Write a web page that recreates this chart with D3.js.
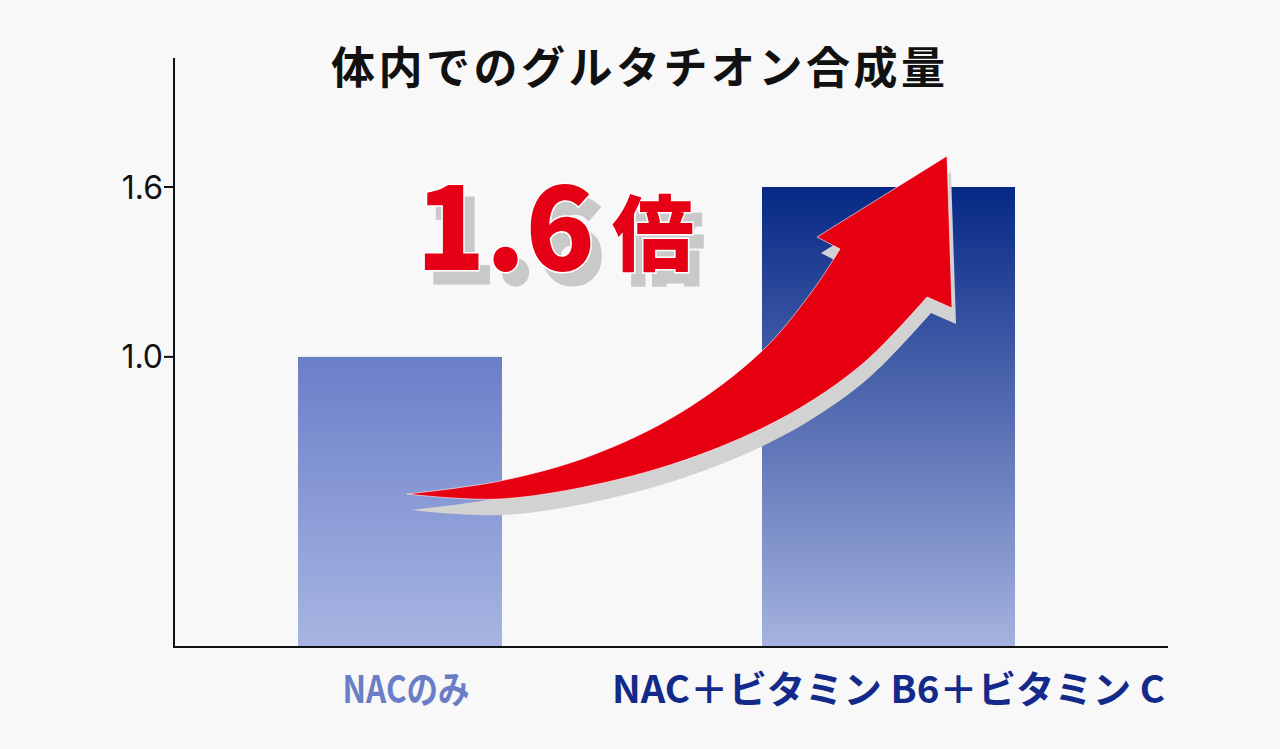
<!DOCTYPE html>
<html><head><meta charset="utf-8">
<script src="https://cdn.jsdelivr.net/npm/d3@7"></script>
<style>
html,body{margin:0;padding:0;background:#f8f8f8;}
svg{display:block;}
</style></head>
<body>
<svg id="chart" width="1280" height="749"></svg>
<script>
// ---- data ----
const categories = ["NACのみ", "NAC＋ビタミン B6＋ビタミン C"];
const values = [1.0, 1.6];
const tickValues = [1.0, 1.6];
const tickLabels = ["1.0", "1.6"];
const titleText = "体内でのグルタチオン合成量";
const calloutText = "1.6倍";

// ---- layout ----
const W = 1280, H = 749;
const axisX = 174, axisTop = 58, baseY = 647, axisRight = 1168;
const barWidths = [204, 253];
const svg = d3.select("#chart");
svg.append("rect").attr("width", W).attr("height", H).attr("fill", "#f8f8f8");

const x = d3.scalePoint().domain(categories).range([400, 888.5]);
const y = d3.scaleLinear().domain([0, 1.6]).range([640, 187]);

const defs = svg.append("defs");
const grads = [["#6b7fc9", "#a8b5e2"], ["#062885", "#a6b3e0"]];
grads.forEach((g, i) => {
  const lg = defs.append("linearGradient").attr("id", "g" + i)
    .attr("x1", 0).attr("y1", 0).attr("x2", 0).attr("y2", 1);
  lg.append("stop").attr("offset", "0%").attr("stop-color", g[0]);
  lg.append("stop").attr("offset", "100%").attr("stop-color", g[1]);
});
// drop shadow filter for callout text
const f = defs.append("filter").attr("id", "shadow")
  .attr("x", "-10%").attr("y", "-10%").attr("width", "130%").attr("height", "140%");
f.append("feOffset").attr("in", "SourceAlpha").attr("dx", 10).attr("dy", 13).attr("result", "off");
f.append("feFlood").attr("flood-color", "#c9c9c9").attr("result", "fl");
f.append("feComposite").attr("in", "fl").attr("in2", "off").attr("operator", "in").attr("result", "sh");
const fm = f.append("feMerge");
fm.append("feMergeNode").attr("in", "sh");
fm.append("feMergeNode").attr("in", "SourceGraphic");

// bars
svg.selectAll("rect.bar").data(values).join("rect").attr("class", "bar")
  .attr("x", (d, i) => x(categories[i]) - barWidths[i] / 2)
  .attr("width", (d, i) => barWidths[i])
  .attr("y", d => y(d))
  .attr("height", d => baseY - y(d))
  .attr("fill", (d, i) => `url(#g${i})`);

// axes
svg.append("line").attr("x1", axisX).attr("x2", axisX).attr("y1", axisTop).attr("y2", baseY + 1)
  .attr("stroke", "#111").attr("stroke-width", 2);
svg.append("line").attr("x1", axisX - 1).attr("x2", axisRight).attr("y1", baseY).attr("y2", baseY)
  .attr("stroke", "#111").attr("stroke-width", 2);

const ticks = svg.append("g");
tickValues.forEach((v, i) => {
  ticks.append("line").attr("x1", axisX - 10).attr("x2", axisX).attr("y1", y(v)).attr("y2", y(v))
    .attr("stroke", "#111").attr("stroke-width", 2);
  ticks.append("text").attr("x", axisX - 11).attr("y", y(v)).attr("dy", "0.36em")
    .attr("text-anchor", "end").attr("font-family", "Inter, 'Noto Sans', sans-serif")
    .attr("font-size", 32).attr("fill", "#111").text(tickLabels[i]);
});

// title
svg.append("text").attr("x", 331).attr("y", 84)
  .attr("font-family", "'Noto Sans CJK JP', sans-serif").attr("font-weight", 700)
  .attr("font-size", 44).attr("fill", "#111")
  .attr("textLength", 614).attr("lengthAdjust", "spacing")
  .text(titleText);

// category labels
const labelColors = ["#6a7ec8", "#132a8a"];
const labelLens = [127, 553];
svg.selectAll("text.cat").data(categories).join("text").attr("class", "cat")
  .attr("x", (d, i) => x(d) - labelLens[i] / 2 + (i === 0 ? 6 : 0))
  .attr("y", 703)
  .attr("font-family", "'Noto Sans CJK JP', sans-serif").attr("font-weight", 700)
  .attr("font-size", 38)
  .attr("fill", (d, i) => labelColors[i])
  .attr("textLength", (d, i) => labelLens[i]).attr("lengthAdjust", "spacingAndGlyphs")
  .text(d => d);

// arrow annotation
const upperPts = [[407,494],[500,481],[590,456],[680,413],[762,351],[813,290],[840,249]];
const lowerPts = [[927,297],[867,360],[800,408],[720,447],[620,479],[500,499],[407,494]];
const head = [[817,237],[947,156],[952,308]];
const lg = d3.line().curve(d3.curveCatmullRom.alpha(0.5));
const arrowPath = lg(upperPts) + head.map(p => "L" + p[0] + "," + p[1]).join("") +
  "L" + lg(lowerPts).slice(1) + "Z";
svg.append("path").attr("d", arrowPath).attr("transform", "translate(4,16)").attr("fill", "#d2d2d2");
svg.append("path").attr("d", arrowPath).attr("fill", "#e60012")
  .attr("stroke", "#ffffff").attr("stroke-width", 1).attr("stroke-opacity", 0.6);

// callout text (single text, shadow via filter)
const co = svg.append("text").attr("x", 416).attr("y", 270)
  .attr("font-family", "'Noto Sans CJK JP', sans-serif").attr("font-weight", 900)
  .attr("fill", "#e60012").attr("stroke", "#fff").attr("stroke-width", 3)
  .attr("paint-order", "stroke").attr("filter", "url(#shadow)");
co.append("tspan").attr("font-size", 114).text(calloutText.slice(0, 3));
co.append("tspan").attr("x", 612).attr("dy", -6).attr("font-size", 82).text(calloutText.slice(3));
</script>
</body></html>
